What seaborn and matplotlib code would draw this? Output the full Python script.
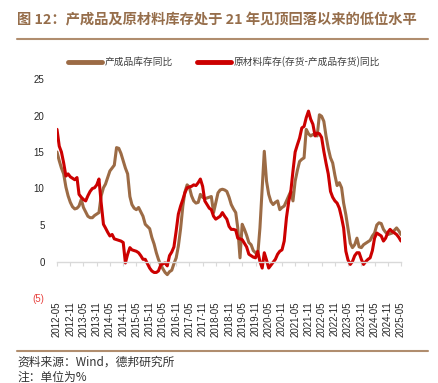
import numpy as np
import pandas as pd
import matplotlib
matplotlib.use("Agg")
import matplotlib.pyplot as plt
import seaborn as sns
from matplotlib.lines import Line2D

# ====================== 数据 (月度, 2012-05 ~ 2025-05, %) ======================
months = pd.date_range("2012-05-01", periods=157, freq="MS")

# 产成品库存同比
finished = [
    15.0, 13.8, 12.8, 12.0, 10.2, 9.0, 8.1, 7.5, 7.2, 7.3,
    7.6, 8.5, 7.4, 6.8, 6.2, 6.0, 6.0, 6.3, 6.5, 6.7,
    9.0, 10.1, 10.6, 11.5, 12.4, 12.8, 13.2, 15.6, 15.5, 14.8,
    13.8, 12.8, 12.0, 8.9, 7.8, 7.3, 7.1, 7.4, 6.8, 6.2,
    5.1, 4.8, 4.5, 3.3, 2.4, 1.2, 0.3, -0.5, -1.0, -1.5,
    -1.8, -1.4, -1.2, -0.3, 0.5, 2.1, 4.5, 7.6, 9.5, 10.5,
    10.2, 9.0, 8.3, 8.0, 8.1, 9.2, 8.8, 8.6, 8.7, 8.8,
    8.9, 6.7, 8.0, 9.4, 9.8, 9.9, 9.8, 9.6, 8.8, 7.8,
    7.2, 6.7, 4.6, 0.5, 5.1, 4.4, 3.6, 2.6, 2.3, 1.5,
    1.2, 0.8, 4.6, 10.1, 15.1, 11.0, 9.2, 8.2, 7.8, 8.1,
    8.3, 7.1, 7.4, 7.6, 8.3, 9.0, 9.6, 8.3, 11.0, 12.5,
    13.7, 14.0, 14.2, 18.1, 17.5, 17.2, 17.4, 17.3, 17.2, 20.1,
    19.9, 19.2, 17.2, 15.5, 14.2, 13.5, 11.8, 10.4, 10.8, 10.1,
    8.0, 6.4, 4.5, 2.5, 1.9, 2.3, 3.2, 2.0, 1.9, 2.3,
    2.5, 2.7, 2.9, 3.5, 3.9, 5.0, 5.3, 5.2, 4.4, 4.0,
    3.7, 3.8, 3.9, 4.3, 4.6, 4.2, 3.7,
]

# 原材料库存(存货-产成品存货)同比
raw = [
    18.1, 15.8, 15.0, 13.5, 11.7, 12.0, 11.6, 11.4, 11.2, 11.5,
    9.2, 8.8, 8.5, 8.3, 9.0, 9.6, 10.0, 10.1, 10.5, 11.3,
    8.0, 5.1, 4.6, 4.0, 3.5, 3.7, 3.1, 3.0, 2.9, 2.8,
    2.6, -0.2, 1.0, 1.9, 1.6, 1.5, 1.4, 1.2, 0.8, 0.3,
    0.3, -0.3, -0.9, -1.3, -1.5, -1.5, -1.3, -0.5, -0.3, -0.2,
    -0.6, 0.8, 1.3, 2.0, 4.2, 6.5, 7.6, 8.5, 9.4, 10.1,
    10.2, 10.3, 10.5, 10.4, 10.8, 11.3, 10.3, 8.3, 7.8, 7.3,
    7.1, 6.2, 5.8, 6.0, 6.2, 6.7, 6.2, 5.8, 4.8, 4.4,
    4.4, 4.3, 3.2, 3.1, 3.0, 2.5, 2.0, 1.0, 0.8, 0.6,
    0.5, 1.4, 0.0, -0.9, 1.2, 0.2, -0.9, -0.5, -0.1, 0.3,
    1.0, 1.4, 1.6, 2.8, 6.0, 8.2, 9.5, 12.4, 15.0, 16.0,
    16.9, 18.3, 18.5, 19.7, 20.6, 19.5, 18.8, 17.2, 17.6, 17.5,
    17.0, 15.1, 13.5, 12.0, 9.6, 8.8, 8.3, 8.0, 7.3, 6.0,
    4.6, 1.4, 0.2, -0.4, 0.0, 0.8, 1.2, 1.2, 0.3, -0.4,
    0.0, 0.3, 0.5, 1.5, 3.2, 3.9, 3.7, 3.5, 2.8, 3.2,
    4.0, 4.4, 4.1, 3.9, 3.7, 3.3, 2.8,
]

tick_dates = pd.date_range("2012-05-01", "2025-05-01", freq="6MS")
tick_labels = [d.strftime("%Y-%m") for d in tick_dates]
y_ticks = [25, 20, 15, 10, 5, 0, -5]
y_labels = ["25", "20", "15", "10", "5", "0", "(5)"]

name_finished = "产成品库存同比"
name_raw = "原材料库存(存货-产成品存货)同比"
title = "图 12：产成品及原材料库存处于 21 年见顶回落以来的低位水平"

brown = "#9C6B45"
red = "#CC0000"
deco = "#B08D6E"

# ====================== 绘图 ======================
sns.set_theme(style="white")
plt.rcParams['font.family'] = ['Noto Sans CJK SC', 'DejaVu Sans']
plt.rcParams['axes.unicode_minus'] = False

W, H = 438, 383
fig = plt.figure(figsize=(W / 100, H / 100), dpi=100)
ax = fig.add_axes([57 / W, 1 - 298 / H, (401 - 57) / W, (298 - 79) / H])

sns.lineplot(x=months, y=finished, color=brown, lw=2.2, ax=ax, label=name_finished)
sns.lineplot(x=months, y=raw, color=red, lw=2.2, ax=ax, label=name_raw)

ax.set_xlim(months[0], months[-1])
ax.set_ylim(-5, 25)
for s in ["left", "right", "top"]:
    ax.spines[s].set_visible(False)
ax.spines["bottom"].set_position(("data", 0))
ax.spines["bottom"].set_color("#D9D9D9")
ax.spines["bottom"].set_linewidth(1.0)

ax.set_xticks(tick_dates)
ax.set_xticklabels(tick_labels, rotation=90, fontsize=7, family="Liberation Sans", color="#262626")
# 坐标轴在0处，标签放在底部
ax.tick_params(axis="x", bottom=True, length=3, width=0.8, color="#D9D9D9", direction="out",
               pad=40 * 0.72 - 3)
ax.set_yticks(y_ticks)
ax.set_yticklabels(y_labels, fontsize=7, family="Liberation Sans", color="#262626")
ax.get_yticklabels()[-1].set_color("#E8423F")
ax.tick_params(axis="y", length=0, pad=9)
ax.set_xlabel("")
ax.set_ylabel("")
ax.grid(False)

ax.get_legend().remove()
fig.legend(handles=[Line2D([], [], color=brown, lw=3.5), Line2D([], [], color=red, lw=3.5)],
           labels=[name_finished, name_raw], loc="center", bbox_to_anchor=(224 / W, 1 - 62 / H),
           ncol=2, frameon=False, fontsize=7, handlelength=3.5, handletextpad=0.3,
           columnspacing=2.4, labelcolor="#404040")

# 标题与分割线
fig.text(17 / W, 1 - 20 / H, title, fontsize=10.3, fontweight="bold", color="#966E4B",
         ha="left", va="center")
fig.add_artist(Line2D([17 / W, 428 / W], [1 - 39 / H] * 2, transform=fig.transFigure,
                      color=deco, lw=1.5))
fig.add_artist(Line2D([17 / W, 428 / W], [1 - 351 / H] * 2, transform=fig.transFigure,
                      color=deco, lw=1.5))
fig.text(17 / W, 1 - 362 / H, "资料来源：Wind，德邦研究所", fontsize=8.5, color="#333333",
         ha="left", va="center")
fig.text(17 / W, 1 - 377 / H, "注：单位为%", fontsize=8.5, color="#333333",
         ha="left", va="center")

fig.savefig("out.png", dpi=100)
